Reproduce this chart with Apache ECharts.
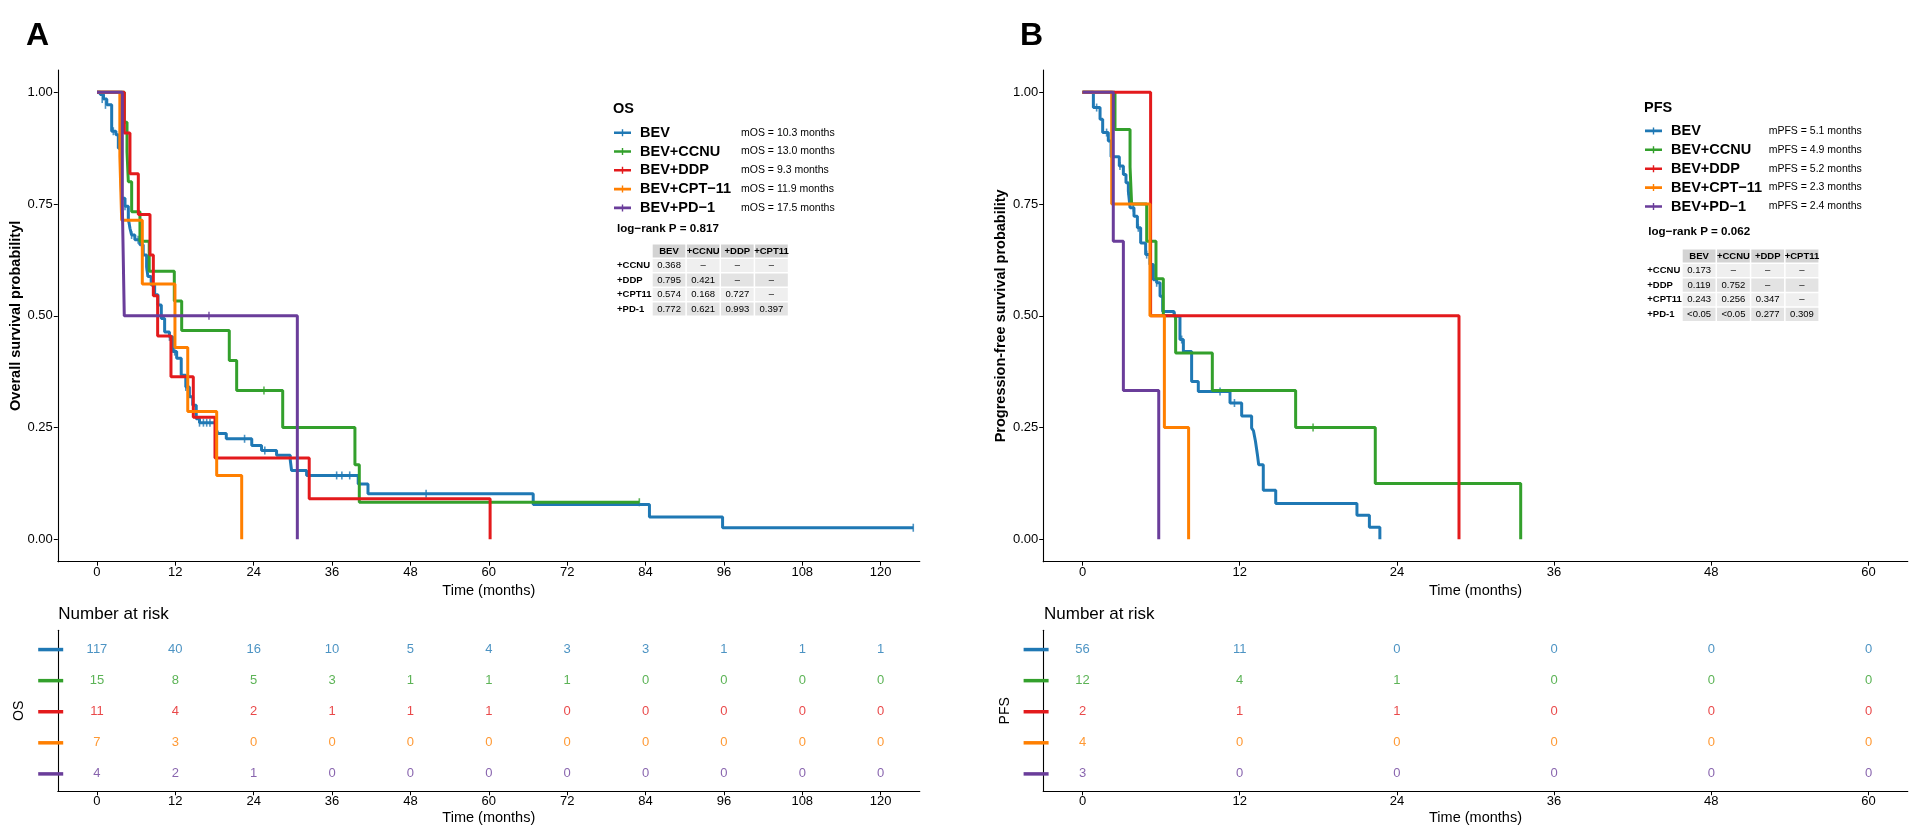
<!DOCTYPE html>
<html><head><meta charset="utf-8">
<script src="https://cdn.jsdelivr.net/npm/echarts@6/dist/echarts.min.js"></script>
<style>html,body{margin:0;padding:0;background:#fff}#c{width:1929px;height:838px}</style>
</head><body><div id="c"></div>
<script>
// ---------- DATA ----------
const groups = ['BEV','BEV+CCNU','BEV+DDP','BEV+CPT−11','BEV+PD−1'];
const colors = ['#1f78b4','#33a02c','#e31a1c','#ff7f00','#6a3d9a'];
const osTicks = [0,12,24,36,48,60,72,84,96,108,120];
const pfsTicks = [0,12,24,36,48,60];
const survTicks = [0,0.25,0.5,0.75,1];
const osMedian = ['10.3','13.0','9.3','11.9','17.5'];
const pfsMedian = ['5.1','4.9','5.2','2.3','2.4'];
const osLogRank = '0.817';
const pfsLogRank = '0.062';

// Overall survival curves [time, survival]
const osBEV = [[0,1],[0.5,0.995],[1.0,0.985],[1.5,0.972],[2.25,0.913],[2.9,0.905],[3.27,0.875],[3.63,0.838],[3.78,0.763],[4.29,0.745],[4.8,0.718],[5.05,0.696],[5.3,0.681],[5.8,0.67],[6.57,0.659],[7.08,0.636],[7.6,0.61],[7.8,0.588],[8.3,0.569],[8.83,0.547],[9.34,0.524],[9.85,0.494],[10.36,0.464],[11.1,0.453],[11.6,0.42],[12.2,0.405],[12.9,0.367],[13.6,0.341],[14.15,0.319],[14.66,0.3],[15.2,0.27],[15.7,0.261],[18.2,0.248],[18.5,0.237],[19.8,0.225],[23.7,0.21],[25.2,0.199],[27.5,0.188],[29.6,0.177],[29.8,0.154],[32.1,0.143],[40.0,0.124],[41.5,0.102],[66.8,0.078],[84.6,0.05],[95.8,0.026],[125.0,0.026]];
const osCCNU = [[0,1],[4.19,0.933],[4.6,0.867],[4.8,0.8],[5.31,0.733],[6.58,0.667],[8.0,0.6],[11.84,0.533],[12.97,0.467],[20.26,0.4],[21.39,0.333],[28.44,0.25],[39.5,0.167],[40.17,0.083],[83.05,0.083]];
const osDDP = [[0,1],[4.18,0.909],[5.05,0.818],[6.33,0.727],[8.12,0.636],[8.63,0.545],[9.29,0.455],[11.33,0.364],[14.75,0.273],[18.07,0.182],[32.5,0.091],[60.2,0]];
const osCPT = [[0,1],[3.5,0.857],[3.78,0.714],[6.94,0.571],[11.94,0.429],[13.9,0.286],[18.33,0.143],[22.16,0]];
const osPD1 = [[0,1],[3.88,0.75],[4.18,0.5],[30.68,0]];
// censoring marks
const osBEVCens = [[0.8,0.985],[1.3,0.972],[2.5,0.913],[3.52,0.875],[4.29,0.745],[4.8,0.718],[5.3,0.681],[6.3,0.67],[7.6,0.61],[9.3,0.524],[11.1,0.453],[11.9,0.42],[13.6,0.341],[15.7,0.261],[16.3,0.261],[16.8,0.261],[17.3,0.261],[22.6,0.225],[25.7,0.199],[36.7,0.143],[37.5,0.143],[38.7,0.143],[50.4,0.102],[125.0,0.026]];
const osCCNUCens = [[25.57,0.333],[83.05,0.083]];
const osPD1Cens = [[17.15,0.5]];

// Progression-free survival curves
const pfsBEV = [[0,1],[0.83,0.966],[1.34,0.94],[1.54,0.91],[1.97,0.891],[2.18,0.856],[2.81,0.835],[3.12,0.816],[3.32,0.798],[3.5,0.779],[3.63,0.742],[3.93,0.723],[4.19,0.697],[4.44,0.663],[4.82,0.637],[5.15,0.615],[5.41,0.581],[5.66,0.574],[5.92,0.544],[6.12,0.51],[6.99,0.499],[7.44,0.447],[7.7,0.42],[8.33,0.353],[8.84,0.331],[11.26,0.305],[12.15,0.276],[12.91,0.249],[13.05,0.243],[13.2,0.22],[13.35,0.19],[13.45,0.167],[13.8,0.11],[14.75,0.08],[20.95,0.054],[21.9,0.027],[22.7,0]];
const pfsCCNU = [[0,1],[2.48,0.917],[3.63,0.833],[3.75,0.75],[4.9,0.667],[5.61,0.583],[6.17,0.5],[7.11,0.417],[9.91,0.333],[16.27,0.25],[22.35,0.125],[33.45,0]];
const pfsDDP = [[0,1],[5.2,0.5],[28.74,0]];
const pfsCPT = [[0,1],[2.23,0.75],[5.15,0.5],[6.25,0.25],[8.1,0]];
const pfsPD1 = [[0,1],[2.35,0.667],[3.12,0.333],[5.82,0]];
const pfsBEVCens = [[1.08,0.966],[1.84,0.91],[2.86,0.835],[3.5,0.779],[3.88,0.742],[4.26,0.697],[4.9,0.637],[5.66,0.574],[7.06,0.499],[7.57,0.447],[10.5,0.331],[11.6,0.305]];
const pfsCCNUCens = [[17.6,0.25]];

// Number at risk
const osRiskBEV = [117,40,16,10,5,4,3,3,1,1,1];
const osRiskCCNU = [15,8,5,3,1,1,1,0,0,0,0];
const osRiskDDP = [11,4,2,1,1,1,0,0,0,0,0];
const osRiskCPT = [7,3,0,0,0,0,0,0,0,0,0];
const osRiskPD1 = [4,2,1,0,0,0,0,0,0,0,0];
const pfsRiskBEV = [56,11,0,0,0,0];
const pfsRiskCCNU = [12,4,1,0,0,0];
const pfsRiskDDP = [2,1,1,0,0,0];
const pfsRiskCPT = [4,0,0,0,0,0];
const pfsRiskPD1 = [3,0,0,0,0,0];

// pairwise p-value tables
const pCols = ['BEV','+CCNU','+DDP','+CPT11'];
const pRows = ['+CCNU','+DDP','+CPT11','+PD-1'];
const osP = [['0.368','–','–','–'],['0.795','0.421','–','–'],['0.574','0.168','0.727','–'],['0.772','0.621','0.993','0.397']];
const pfsP = [['0.173','–','–','–'],['0.119','0.752','–','–'],['0.243','0.256','0.347','–'],['<0.05','<0.05','0.277','0.309']];

// ---------- BUILD ----------
const FF = '"Liberation Sans", Arial, Helvetica, sans-serif';
const chart = echarts.init(document.getElementById('c'), null, {renderer:'canvas'});

const osCurves = [osBEV, osCCNU, osDDP, osCPT, osPD1];
const osCens = [osBEVCens, osCCNUCens, [], [], osPD1Cens];
const pfsCurves = [pfsBEV, pfsCCNU, pfsDDP, pfsCPT, pfsPD1];
const pfsCens = [pfsBEVCens, pfsCCNUCens, [], [], []];
const osRisk = [osRiskBEV, osRiskCCNU, osRiskDDP, osRiskCPT, osRiskPD1];
const pfsRisk = [pfsRiskBEV, pfsRiskCCNU, pfsRiskDDP, pfsRiskCPT, pfsRiskPD1];

const grids = [
  {left:57.8, top:70, width:862, height:491.7},
  {left:57.8, top:630.3, width:862, height:161},
  {left:1043.2, top:70, width:864.6, height:491.7},
  {left:1043.2, top:630.3, width:864.6, height:161}
];
grids.forEach(g => { g.containLabel = false; g.outerBoundsMode = 'none'; });

const axLine = {show:true, onZero:false, lineStyle:{color:'#000', width:1.1}};
function xAx(gi, min, max, ticks, name, gap){
  return {type:'value', gridIndex:gi, min:min, max:max,
    axisLine:axLine,
    axisTick:{show:true, length:4, lineStyle:{color:'#000'}, customValues:ticks},
    axisLabel:{customValues:ticks, color:'#000', fontSize:13, fontFamily:FF, margin:4},
    splitLine:{show:false},
    name:name, nameLocation:'middle', nameGap:gap,
    nameTextStyle:{color:'#000', fontSize:14.5, fontFamily:FF}};
}
function yAxMain(gi, name, gap){
  return {type:'value', gridIndex:gi, min:-0.05, max:1.05,
    axisLine:axLine,
    axisTick:{show:true, length:4, lineStyle:{color:'#000'}, customValues:survTicks},
    axisLabel:{customValues:survTicks, color:'#000', fontSize:13, fontFamily:FF, margin:5, formatter:v=>v.toFixed(2)},
    splitLine:{show:false},
    name:name, nameLocation:'middle', nameGap:gap, nameRotate:90,
    nameTextStyle:{color:'#000', fontSize:14.5, fontWeight:'bold', fontFamily:FF}};
}
const dashRich = {};
colors.forEach((c,i)=>{ dashRich['d'+i] = {width:25, height:3.5, backgroundColor:c}; });
function yAxRisk(gi, name, gap){
  return {type:'value', gridIndex:gi, min:0.38, max:5.56, inverse:true,
    axisLine:axLine, axisTick:{show:false},
    axisLabel:{customValues:[1,2,3,4,5], margin:-5.4, formatter:v=>'{d'+(Math.round(v)-1)+'|}', rich:dashRich},
    splitLine:{show:false},
    name:name, nameLocation:'middle', nameGap:gap, nameRotate:90,
    nameTextStyle:{color:'#000', fontSize:14, fontFamily:FF}};
}

const xAxis = [
  xAx(0,-6,126,osTicks,'Time (months)',18.5),
  xAx(1,-6,126,osTicks,'Time (months)',19),
  xAx(2,-3,63,pfsTicks,'Time (months)',18.5),
  xAx(3,-3,63,pfsTicks,'Time (months)',19)
];
const yAxis = [
  yAxMain(0,'Overall survival probabilityl',29),
  yAxRisk(1,'OS',32),
  yAxMain(2,'Progression-free survival probability',25),
  yAxRisk(3,'PFS',31)
];

const series = [];
function addPanel(curves, cens, risk, ticks, mainIdx, riskIdx, tag){
  curves.forEach((d,i)=>{
    series.push({type:'line', name:groups[i], xAxisIndex:mainIdx, yAxisIndex:mainIdx, data:d,
      step:'end', showSymbol:false, symbol:'none', lineStyle:{width:3, color:colors[i]},
      itemStyle:{color:colors[i]}, animation:false, silent:true});
    if (cens[i].length) series.push({type:'scatter', name:groups[i], xAxisIndex:mainIdx, yAxisIndex:mainIdx,
      data:cens[i], symbol:'rect', symbolSize:[1.6,8], itemStyle:{color:colors[i]}, animation:false, silent:true});
  });
  risk.forEach((r,i)=>{
    series.push({type:'scatter', name:tag+'-risk-'+i, xAxisIndex:riskIdx, yAxisIndex:riskIdx,
      data:ticks.map((t,k)=>[t,i+1,r[k]]), symbolSize:0, animation:false, silent:true,
      label:{show:true, position:'inside', formatter:p=>String(p.value[2]), color:colors[i], fontSize:13, fontFamily:FF}});
  });
}
addPanel(osCurves, osCens, osRisk, osTicks, 0, 1, 'os');
addPanel(pfsCurves, pfsCens, pfsRisk, pfsTicks, 2, 3, 'pfs');

const legIcon = 'path://M0,2.2H17V4.8H0Z M7.8,0H9.2V7H7.8Z';
function legend(left, top, medians, prefix, nameW, gap){
  return {left:left, top:top, padding:0, orient:'vertical', itemWidth:17, itemHeight:7, itemGap:gap,
    data:groups.map((g,i)=>({name:g, icon:legIcon, itemStyle:{color:colors[i]}})),
    formatter:name=>'{n|'+name+'}{m|'+prefix+' = '+medians[groups.indexOf(name)]+' months}',
    textStyle:{rich:{
      n:{fontSize:14.5, fontWeight:'bold', width:nameW, color:'#000', fontFamily:FF, lineHeight:16, padding:[0,0,0,4]},
      m:{fontSize:10.5, color:'#000', fontFamily:FF, lineHeight:16}}}};
}

function txt(x, y, text, size, weight, align){
  return {type:'text', x:x, y:y, silent:true, style:{text:text, fontSize:size, fontWeight:weight||'normal', fontFamily:FF,
    fill:'#000', align:align||'left', verticalAlign:'middle', textAlign:align||'left', textVerticalAlign:'middle'}};
}
function pTable(x0, y0, cw, rh, labelX, vals){
  const els = [];
  pCols.forEach((c,j)=>{
    els.push({type:'rect', silent:true, shape:{x:x0+j*cw, y:y0, width:cw-1.5, height:rh-1.5}, style:{fill:'#d3d3d3'}});
    els.push(txt(x0+j*cw+(cw-1.5)/2, y0+(rh-1.5)/2, c, 9.5, 'bold', 'center'));
  });
  pRows.forEach((r,i)=>{
    const y = y0+(i+1)*rh;
    els.push(txt(labelX, y+(rh-1.5)/2, r, 9.5, 'bold', 'left'));
    vals[i].forEach((v,j)=>{
      els.push({type:'rect', silent:true, shape:{x:x0+j*cw, y:y, width:cw-1.5, height:rh-1.5}, style:{fill: i%2===0 ? '#efefef' : '#e3e3e3'}});
      els.push(txt(x0+j*cw+(cw-1.5)/2, y+(rh-1.5)/2, v, 9.5, 'normal', 'center'));
    });
  });
  return els;
}

const graphic = [
  txt(26, 36, 'A', 32, 'bold'),
  txt(1020, 36, 'B', 32, 'bold'),
  txt(613, 109.3, 'OS', 14.5, 'bold'),
  txt(1644, 107.7, 'PFS', 14.5, 'bold'),
  txt(617, 228.3, 'log−rank P = ' + osLogRank, 11.6, 'bold'),
  txt(1648.3, 231.7, 'log−rank P = ' + pfsLogRank, 11.6, 'bold'),
  txt(58.3, 614.7, 'Number at risk', 17, 'normal'),
  txt(1044, 614.7, 'Number at risk', 17, 'normal')
].concat(pTable(652.7, 244.5, 34.15, 14.5, 617, osP))
 .concat(pTable(1682.7, 249.4, 34.3, 14.6, 1647.3, pfsP));

chart.setOption({
  animation:false,
  backgroundColor:'#fff',
  textStyle:{fontFamily:FF},
  grid:grids, xAxis:xAxis, yAxis:yAxis, series:series,
  legend:[legend(614,125.2,osMedian,'mOS',101,3.8), legend(1645,123.4,pfsMedian,'mPFS',97.7,3.9)],
  graphic:graphic
});
</script></body></html>
